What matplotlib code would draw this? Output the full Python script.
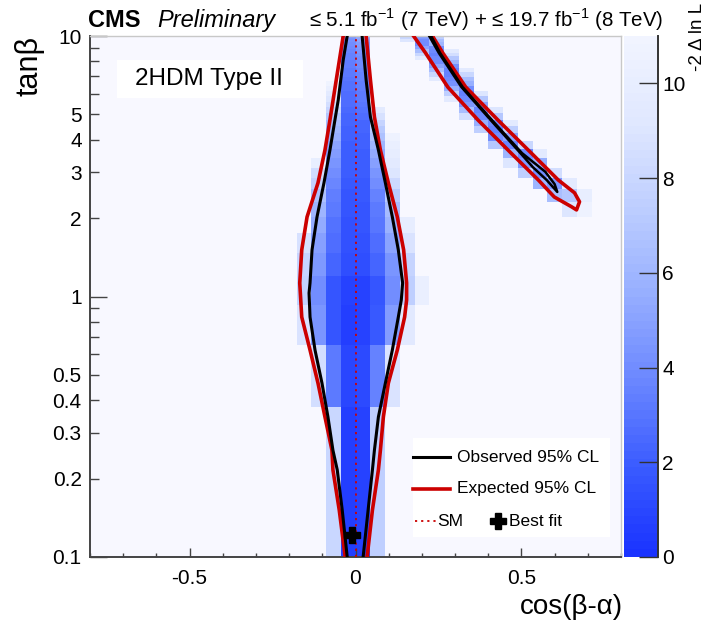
import numpy as np
import matplotlib
matplotlib.use("Agg")
import matplotlib.pyplot as plt
from matplotlib.colors import LinearSegmentedColormap, Normalize
from matplotlib.lines import Line2D
from matplotlib.patches import Rectangle
from matplotlib.ticker import FixedLocator, FixedFormatter

plt.rcParams['font.family'] = ['Liberation Sans', 'DejaVu Sans']
plt.rcParams['mathtext.fontset'] = 'custom'
plt.rcParams['mathtext.rm'] = 'Liberation Sans'
plt.rcParams['axes.unicode_minus'] = False

# scan grid: 36 x 36 bins in cos(beta-alpha) and tan(beta)
cba_edges = np.linspace(-0.8, 0.8, 37)
tanb_edges = np.linspace(0.1, 10.0, 37)
z_max = 11.0

# -2 dlnL in the central band, one entry per tan(beta) row
band_first = [16, 15, 14, 14, 14, 14, 15, 15, 15, 15, 15, 15,
              16, 16, 16, 16, 16, 16, 16, 16, 16, 16, 16, 16,
              17, 17, 17, 17, 17, 17, 17, 17, 17, 17, 17, 17]
band_values = [
    [8.0, 0.6, 0.8, 7.5],
    [8.5, 3.2, 0.9, 1.1, 3.6, 8.8],
    [8.8, 4.3, 1.6, 0.6, 0.7, 1.8, 4.8, 9.4],
    [7.6, 4.0, 1.6, 0.8, 0.8, 1.6, 4.0, 7.5, 10.2],
    [7.9, 4.5, 2.4, 1.3, 1.3, 2.4, 4.4, 7.8],
    [8.6, 4.9, 2.6, 1.4, 1.5, 2.7, 5.0, 8.9],
    [5.4, 2.8, 1.5, 1.6, 3.0, 5.8, 9.8],
    [6.0, 3.1, 1.7, 1.7, 3.2, 6.3],
    [6.7, 3.4, 1.7, 1.8, 3.6, 7.2],
    [7.6, 3.7, 1.8, 1.8, 4.0, 8.1],
    [8.4, 4.0, 1.9, 1.9, 4.4, 9.1],
    [10.0, 4.3, 1.9, 2.0, 4.9, 9.6],
    [4.7, 2.0, 2.0, 5.4, 9.9],
    [5.1, 2.0, 2.1, 6.0, 10.3],
    [5.5, 2.1, 2.2, 6.6, 10.6],
    [5.9, 2.2, 2.3, 7.2],
    [6.3, 2.3, 2.4, 7.8],
    [7.0, 2.4, 2.6, 8.6],
    [7.8, 2.5, 2.8, 9.6],
    [8.5, 2.6, 3.0],
    [9.1, 2.7, 3.1],
    [9.6, 2.7, 3.2],
    [10.2, 2.8, 3.3],
    [10.7, 2.9, 3.4],
    [3.0, 3.5], [3.1, 3.6], [3.2, 3.7], [3.3, 3.8],
    [3.4, 3.9], [3.5, 4.0], [3.6, 4.2], [3.7, 4.4],
    [3.8, 4.6], [4.0, 4.8], [4.2, 5.0], [4.4, 5.2],
]

# -2 dlnL along the wrong-sign arm at large cos(beta-alpha)
arm_rows = [35, 34, 33, 32, 31, 30, 29, 28, 27, 26, 25, 24, 23, 22, 21,
            20, 19, 18, 17, 16, 15, 14, 13, 12, 11, 10, 9, 8, 7]
arm_first = [21, 21, 22, 22, 22, 22, 22, 23, 23, 23, 23, 23, 24, 24, 24,
             24, 25, 25, 25, 26, 26, 27, 27, 28, 28, 29, 30, 31, 32]
arm_values = [
    [8.0, 4.5, 7.5], [9.0, 4.0, 6.5], [4.0, 6.0], [5.0, 4.0],
    [6.5, 3.8, 9.5], [8.0, 3.6, 8.5], [9.5, 3.8, 7.0], [4.0, 6.0],
    [5.0, 4.2], [6.5, 3.6, 9.5], [8.0, 3.5, 8.0], [9.5, 3.8, 6.5],
    [4.2, 5.5], [5.5, 4.0], [7.5, 3.5, 9.0], [9.5, 3.8, 7.0],
    [4.5, 5.0], [6.5, 3.6, 9.0], [8.5, 3.8, 7.0], [5.5, 3.8, 9.5],
    [7.5, 3.6, 7.5], [4.0, 5.0], [7.0, 3.7, 8.0], [6.0, 3.8, 9.5],
    [9.0, 4.5, 5.5], [7.5, 4.0, 8.5], [6.0, 4.5, 9.5], [6.5, 7.0, 10.0],
    [9.0, 10.5],
]

# observed 95% CL contour, central band (left and right edges)
obs_left_t = [10.0, 8.09, 5.68, 4.76, 3.65, 2.73, 2.02, 1.51, 1.127, 1.031,
              0.834, 0.623, 0.465, 0.345, 0.257, 0.216, 0.1515, 0.1]
obs_left_x = [-0.025, -0.037, -0.052, -0.062, -0.077, -0.095, -0.116, -0.131,
              -0.137, -0.140, -0.137, -0.122, -0.101, -0.083, -0.068, -0.055,
              -0.040, -0.025]
obs_right_t = [10.0, 6.78, 4.89, 3.65, 2.73, 2.02, 1.51, 1.127, 0.970, 0.834,
               0.623, 0.465, 0.345, 0.257, 0.216, 0.1515, 0.1]
obs_right_x = [0.020, 0.032, 0.045, 0.069, 0.090, 0.111, 0.129, 0.142, 0.138,
               0.129, 0.111, 0.090, 0.069, 0.057, 0.051, 0.038, 0.023]

# expected 95% CL contour, central band
exp_left_t = [10.0, 6.78, 4.76, 3.65, 2.73, 2.02, 1.51, 1.127, 0.834, 0.623,
              0.465, 0.345, 0.257, 0.216, 0.1515, 0.1]
exp_left_x = [-0.037, -0.058, -0.077, -0.092, -0.113, -0.146, -0.162, -0.168,
              -0.162, -0.137, -0.113, -0.092, -0.071, -0.068, -0.049, -0.031]
exp_right_t = [10.0, 6.78, 4.89, 3.65, 2.73, 2.02, 1.51, 1.127, 0.970, 0.834,
               0.623, 0.465, 0.345, 0.257, 0.216, 0.1515, 0.1]
exp_right_x = [0.032, 0.045, 0.057, 0.075, 0.099, 0.126, 0.145, 0.154, 0.154,
               0.148, 0.126, 0.099, 0.084, 0.075, 0.069, 0.051, 0.035]

# contours around the arm
arm_exp_x = [0.175, 0.211, 0.278, 0.369, 0.469, 0.551, 0.599, 0.651, 0.666,
             0.675, 0.660, 0.611, 0.530, 0.429, 0.332, 0.263, 0.232]
arm_exp_t = [10.0, 8.61, 6.37, 4.76, 3.55, 2.80, 2.41, 2.21, 2.15,
             2.31, 2.50, 2.80, 3.55, 4.76, 6.37, 8.61, 10.0]
arm_obs_x = [0.222, 0.251, 0.319, 0.407, 0.497, 0.534, 0.576, 0.608,
             0.600, 0.572, 0.502, 0.411, 0.323, 0.255, 0.228]
arm_obs_t = [10.0, 8.61, 6.37, 4.76, 3.55, 3.14, 2.80, 2.52,
             2.70, 3.01, 3.55, 4.76, 6.37, 8.61, 10.0]

best_fit = (-0.011, 0.1215)
sm_cba = 0.0

y_major = [0.1, 1, 10]
y_minor = [0.2, 0.3, 0.4, 0.5, 0.6, 0.7, 0.8, 0.9, 2, 3, 4, 5, 6, 7, 8, 9]
y_minor_labels = ['0.2', '0.3', '0.4', '0.5', '', '', '', '',
                  '2', '3', '4', '5', '', '', '', '']
x_major = [-0.5, 0.0, 0.5]
x_minor = [-0.8, -0.7, -0.6, -0.4, -0.3, -0.2, -0.1, 0.1, 0.2, 0.3, 0.4,
           0.6, 0.7, 0.8]
z_ticks = [0, 2, 4, 6, 8, 10]

RED = '#cc0000'
W, H = 709, 626


def fx(px):
    return px / W


def fy(py):
    return 1 - py / H


dnll = np.full((36, 36), np.nan)
for row, (first, vals) in enumerate(zip(band_first, band_values)):
    dnll[row, first:first + len(vals)] = vals
for row, first, vals in zip(arm_rows, arm_first, arm_values):
    dnll[row, first:first + len(vals)] = vals

cmap = LinearSegmentedColormap.from_list(
    'cms_blue',
    ['#1a33ff', '#3a5bff', '#6a86ff', '#95adff', '#bccdff', '#dfe7ff', '#f1f4ff'],
    N=64)
norm = Normalize(0, z_max)

fig = plt.figure(figsize=(W / 100, H / 100), dpi=100)
ax = fig.add_axes([fx(90), fy(557), (621 - 90) / W, (557 - 36) / H])
cax = fig.add_axes([fx(624), fy(557), (658 - 624) / W, (557 - 36) / H])

ax.set_facecolor('#f8f8ff')
mesh = ax.pcolormesh(cba_edges, tanb_edges, dnll, cmap=cmap, norm=norm,
                     shading='flat', zorder=1)

ax.plot(exp_left_x, exp_left_t, color=RED, lw=2.6, zorder=3)
ax.plot(exp_right_x, exp_right_t, color=RED, lw=2.6, zorder=3)
ax.plot(arm_exp_x, arm_exp_t, color=RED, lw=2.6, zorder=3)
ax.plot(obs_left_x, obs_left_t, color='black', lw=2.2, zorder=4)
ax.plot(obs_right_x, obs_right_t, color='black', lw=2.2, zorder=4)
ax.plot(arm_obs_x, arm_obs_t, color='black', lw=1.8, zorder=4)
ax.axvline(sm_cba, color=RED, ls=(0, (1.2, 2.2)), lw=1.3, zorder=5)
ax.plot([best_fit[0]], [best_fit[1]], marker='P', ms=12, color='black',
        zorder=6, clip_on=False)

ax.set_yscale('log')
ax.set_xlim(-0.8, 0.8)
ax.set_ylim(0.1, 10)

ax.yaxis.set_major_locator(FixedLocator(y_major))
ax.yaxis.set_major_formatter(FixedFormatter(['0.1', '1', '10']))
ax.yaxis.set_minor_locator(FixedLocator(y_minor))
ax.yaxis.set_minor_formatter(FixedFormatter(y_minor_labels))
ax.xaxis.set_major_locator(FixedLocator(x_major))
ax.xaxis.set_major_formatter(FixedFormatter(['-0.5', '0', '0.5']))
ax.xaxis.set_minor_locator(FixedLocator(x_minor))

ax.tick_params(axis='y', which='both', direction='in', left=True, right=False,
               labelsize=15, pad=6, width=1, color='#444444')
ax.tick_params(axis='y', which='major', length=12)
ax.tick_params(axis='y', which='minor', length=6.5)
ax.tick_params(axis='x', which='both', direction='in', bottom=True, top=False,
               labelsize=15, pad=9, width=1, color='#444444')
ax.tick_params(axis='x', which='major', length=6.5)
ax.tick_params(axis='x', which='minor', length=3.2)

for side in ['left', 'bottom']:
    ax.spines[side].set_color('#444444')
    ax.spines[side].set_linewidth(1.4)
for side in ['top', 'right']:
    ax.spines[side].set_color('#c8c8c8')
    ax.spines[side].set_linewidth(1.0)

cbar = fig.colorbar(mesh, cax=cax)
cbar.outline.set_visible(False)
cax.spines['right'].set_visible(True)
cax.spines['right'].set_color('#333333')
cax.spines['right'].set_linewidth(1.4)
cbar.set_ticks(z_ticks)
cbar.set_ticklabels([str(t) for t in z_ticks])
cax.tick_params(axis='y', which='major', direction='in', length=13.5,
                width=1, color='#333333', labelsize=15, pad=3,
                right=True, left=False, labelright=True, labelleft=False)
cax.minorticks_off()

# titles and axis labels
fig.text(fx(88), fy(27), 'CMS', fontsize=17, fontweight='bold', va='baseline')
fig.text(fx(157), fy(27), 'Preliminary', fontsize=17, fontstyle='italic',
         va='baseline')
fig.text(fx(663), fy(27),
         '≤ 5.1 fb$^{-1}$ (7 TeV) + ≤ 19.7 fb$^{-1}$ (8 TeV)',
         fontsize=14.8, ha='right', va='baseline')
fig.text(fx(30), fy(36), 'tanβ', rotation=90, ha='center', va='top',
         fontsize=22)
fig.text(fx(623), fy(607), 'cos(β-α)', ha='right', va='center', fontsize=20)
fig.text(fx(697), fy(3), '-2 Δ ln L', rotation=90, ha='center',
         va='top', fontsize=13.5)

# model label
fig.add_artist(Rectangle((fx(117), fy(98)), (303 - 117) / W, (98 - 60) / H,
                         transform=fig.transFigure, facecolor='white',
                         edgecolor='none'))
fig.text(fx(209), fy(79), '2HDM Type II', ha='center', va='center',
         fontsize=17.5)

# legend
fig.add_artist(Rectangle((fx(413), fy(537)), (610 - 413) / W, (537 - 438) / H,
                         transform=fig.transFigure, facecolor='white',
                         edgecolor='none'))
fig.add_artist(Line2D([fx(413), fx(450)], [fy(457)] * 2,
                      transform=fig.transFigure, color='black', lw=2.2))
fig.text(fx(457), fy(457), 'Observed 95% CL', va='center', fontsize=12.5)
fig.add_artist(Line2D([fx(413), fx(450)], [fy(489)] * 2,
                      transform=fig.transFigure, color=RED, lw=2.6))
fig.text(fx(457), fy(489), 'Expected 95% CL', va='center', fontsize=12.5)
fig.add_artist(Line2D([fx(415), fx(437)], [fy(521)] * 2,
                      transform=fig.transFigure, color=RED,
                      ls=(0, (1.2, 2.2)), lw=1.3))
fig.text(fx(437), fy(521), 'SM', va='center', fontsize=12.5)
fig.add_artist(Line2D([fx(498)], [fy(521)], transform=fig.transFigure,
                      marker='P', ms=12, color='black'))
fig.text(fx(509), fy(521), 'Best fit', va='center', fontsize=12.5)

fig.savefig('out.png', dpi=100)
